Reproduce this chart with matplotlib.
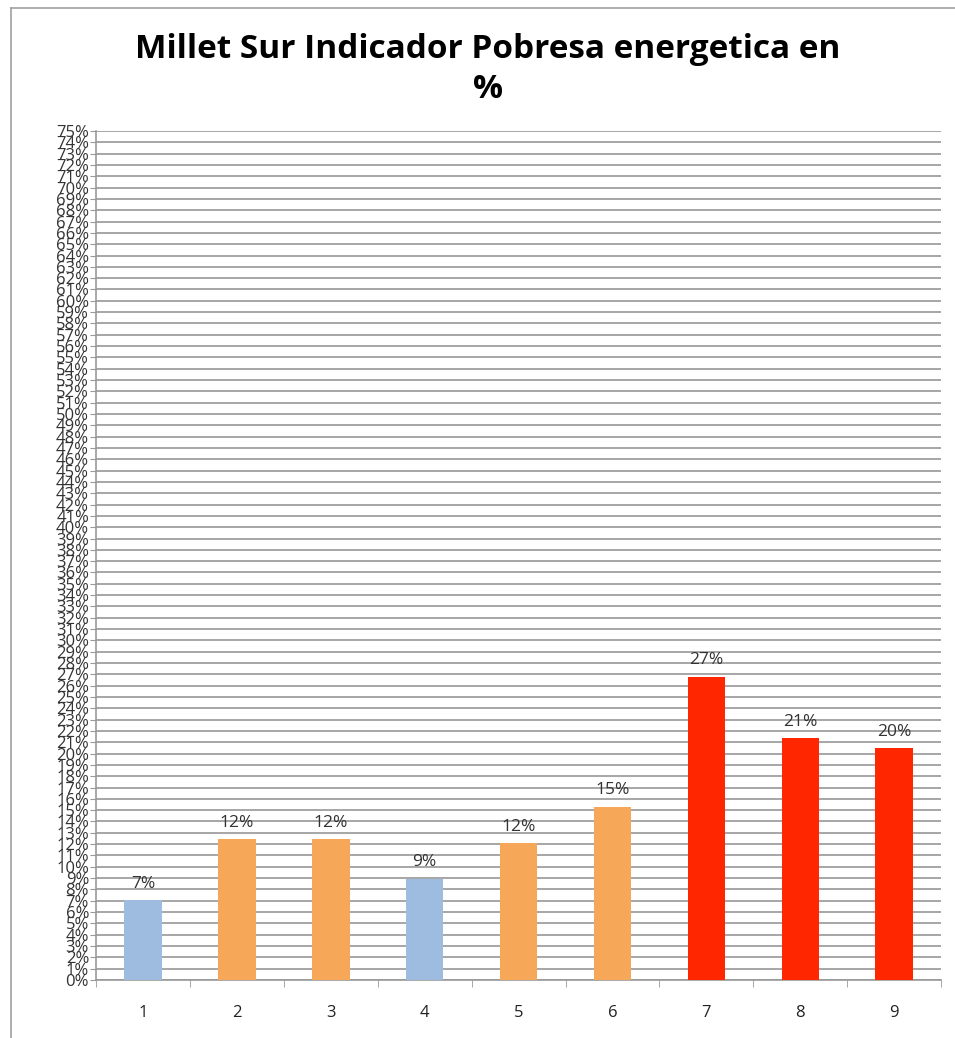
import matplotlib.pyplot as plt
import numpy as np
from matplotlib.lines import Line2D

# Datos del grafico
categorias = ['1', '2', '3', '4', '5', '6', '7', '8', '9']
valores = [7.05, 12.45, 12.45, 8.95, 12.1, 15.3, 26.8, 21.35, 20.5]
etiquetas = ['7%', '12%', '12%', '9%', '12%', '15%', '27%', '21%', '20%']
colores = ['#9DBCDF', '#F7A758', '#F7A758', '#9DBCDF', '#F7A758', '#F7A758',
           '#FF2600', '#FF2600', '#FF2600']

fig = plt.figure(figsize=(9.55, 10.38), dpi=100)
ax = fig.add_axes([0.1005, 0.0559, 0.885, 0.8179])

x = np.arange(len(categorias))
ax.bar(x, valores, width=0.4, color=colores, zorder=3)

for xi, v, t in zip(x, valores, etiquetas):
    ax.annotate(t, (xi, v), xytext=(0, 6), textcoords='offset points',
                ha='center', va='bottom', fontsize=12.5, color='#333333',
                family='Open Sans')

ax.set_xlim(-0.5, len(categorias) - 0.5)
ax.set_ylim(0, 75)
ax.set_yticks(np.arange(0, 76, 1))
ax.set_yticklabels([f'{i}%' for i in range(76)], fontsize=12,
                   family='Open Sans', color='#333333')
ax.set_xticks(x)
ax.set_xticklabels(categorias, fontsize=12, family='Open Sans', color='#222222')
ax.set_xticks(np.arange(-0.5, len(categorias), 1), minor=True)
ax.tick_params(axis='x', which='major', length=0, pad=18)
ax.tick_params(axis='x', which='minor', length=5, color='#999999', direction='out')
ax.tick_params(axis='y', length=4, color='#999999', direction='out', pad=1)

ax.grid(axis='y', color='#A6A6A6', linewidth=1.4, zorder=0)
for s in ['top', 'right']:
    ax.spines[s].set_visible(False)
ax.spines['left'].set_color('#999999')
ax.spines['bottom'].set_color('#999999')
ax.spines['left'].set_linewidth(1.2)
ax.spines['bottom'].set_linewidth(1.2)

fig.text(0.511, 0.933, 'Millet Sur Indicador Pobresa energetica en\n%',
         ha='center', va='center', fontsize=24, fontweight='bold',
         family='Open Sans', linespacing=1.3)

# borde del area del grafico
fig.add_artist(Line2D([0.011, 0.011], [0.0, 0.992], color='#A0A0A0', lw=1.2))
fig.add_artist(Line2D([0.011, 1.0], [0.992, 0.992], color='#A0A0A0', lw=1.2))

fig.savefig('out.png', dpi=100)
